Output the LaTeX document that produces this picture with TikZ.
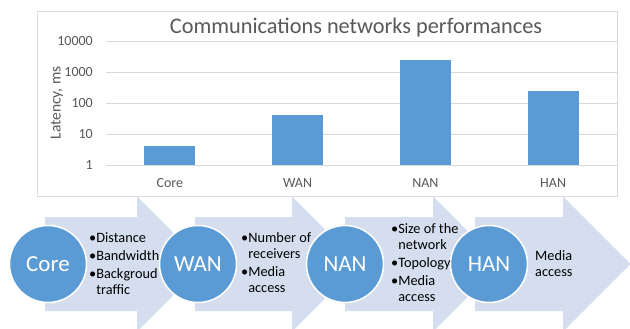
\documentclass[tikz,border=0pt]{standalone}
\usepackage{fontspec}
\setmainfont{Carlito}
\definecolor{barblue}{RGB}{91,155,213}
\definecolor{arrowblue}{RGB}{212,222,239}
\definecolor{gridgray}{RGB}{217,217,217}
\definecolor{txtgray}{RGB}{89,89,89}
\newcommand{\bl}{•}
\newcommand{\ind}{\phantom{•}}
\begin{document}
\begin{tikzpicture}[x=1pt,y=-1pt,
  ticklab/.style={anchor=east,inner sep=0pt,text=txtgray,font=\fontsize{14}{16}\selectfont},
  catlab/.style={inner sep=0pt,text=txtgray,font=\fontsize{14}{16}\selectfont},
  barbox/.style={fill=barblue},
  circ/.style={circle,minimum size=77pt,inner sep=0pt,fill=barblue,draw=white,line width=1.5pt,text=white,font=\fontsize{23}{26}\selectfont},
  listbox/.style={anchor=west,align=left,inner sep=0pt,text=black,font=\fontsize{14.3}{16}\selectfont},
  procarrow/.style={fill=arrowblue}]
\useasboundingbox (0,0) rectangle (630,329);
\clip (0,0) rectangle (630,329);
\fill[white] (0,0) rectangle (630,329);
% process arrows
\foreach \l/\b in {45/137,195/292,345/433,475/563}{
  \fill[procarrow] (\l,217) -- (\b,217) -- (\b,196.5) -- ({\b+67.5},264) -- (\b,331.5) -- (\b,311) -- (\l,311) -- cycle;
}
% chart
\draw[gridgray,fill=white,line width=0.8pt] (37,11) rectangle (617,196);
\node[inner sep=0pt,text=txtgray,font=\fontsize{22.3}{26}\selectfont] (title) at (356,28) {Communications networks performances};
\foreach \v/\y in {10000/41,1000/72,100/103,10/134,1/165}{
  \draw[gridgray,line width=0.8pt] (106,\y) -- (617,\y);
  \node[ticklab] (tick\v) at (93,\y) {\v};
}
\node[rotate=90,inner sep=0pt,text=txtgray,font=\fontsize{15.5}{18}\selectfont] (ylab) at (57,103) {Latency, ms};
\foreach \c/\t/\nm in {169.9/146.3/Core,297.6/115.3/WAN,425.4/59.7/NAN,553.1/90.7/HAN}{
  \fill[barbox] ({\c-25.5},\t) rectangle ({\c+25.5},165);
  \node[catlab] (cat\nm) at (\c,183) {\nm};
}
% circles
\node[circ] (core) at (48,264) {Core};
\node[circ] (wan) at (198,264) {WAN};
\node[circ] (nan) at (345,264) {NAN};
\node[circ] (han) at (489,264) {HAN};
% lists
\node[listbox] (lcore) at (89,264) {\bl Distance\\[2pt]\bl Bandwidth\\[2pt]\bl Backgroud\\\ind traffic};
\node[listbox] (lwan) at (241,263) {\bl Number of\\\ind receivers\\[2pt]\bl Media\\\ind access};
\node[listbox] (lnan) at (391,263) {\bl Size of the\\\ind network\\[2pt]\bl Topology\\[2pt]\bl Media\\\ind access};
\node[listbox] (lhan) at (535,264) {Media\\access};
\end{tikzpicture}
\end{document}
